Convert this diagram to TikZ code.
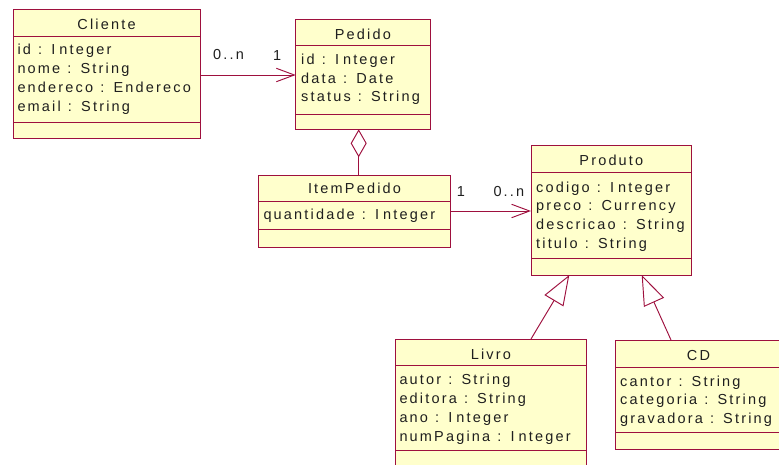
\documentclass[tikz,border=0pt]{standalone}
\usepackage{fontspec}
\setmainfont{Liberation Sans}[LetterSpace=15, WordSpace=1.15]
\usetikzlibrary{arrows.meta,calc}
\definecolor{umlborder}{RGB}{158,16,62}
\definecolor{umlfill}{RGB}{255,255,204}

% the type name is set with a wider gap after its capital I
\newcommand\Int{I\kern4pt nteger}

% class box: name, left, top, right, bottom, divider 1, divider 2, title baseline, title
\newcommand\umlclass[9]{%
  \node[classbox, minimum width={(#4-#2)*1pt}, minimum height={(#5-#3)*1pt}] (#1) at (#2,#3) {};
  \draw[divider] (#2,#6) -- (#4,#6);
  \draw[divider] (#2,#7) -- (#4,#7);
  \node[title] (#1-title) at ({(#2+#4)/2},#8) {#9};
}
% attribute lines: name, x, first baseline, line step, list
\newcommand\umlattrs[5]{%
  \foreach \t [count=\i from 0] in {#5}
    \node[attr] (#1-attr-\i) at (#2,{#3+#4*\i}) {\t};
}

\begin{document}
\begin{tikzpicture}[x=1pt,y=-1pt,
  classbox/.style={draw=umlborder, fill=umlfill, line width=1pt,
    inner sep=0pt, outer sep=0pt, anchor=north west},
  divider/.style={draw=umlborder, line width=0.95pt},
  umltext/.style={inner sep=0pt, text=black!88, font=\fontsize{14.5}{17}\selectfont},
  attr/.style={umltext, anchor=base west},
  title/.style={umltext, anchor=base},
  mult/.style={umltext, anchor=base west},
  assoc/.style={draw=umlborder, line width=0.95pt},
]
\clip (0,0) rectangle (779,465);

\umlclass{cliente}{13}{10}{200}{138.5}{36}{122.5}{30}{Cliente}
\umlattrs{cliente}{17.3}{55}{19}{id : \Int, nome : String, endereco : Endereco, email : String}

\umlclass{pedido}{295.7}{19.3}{430}{129.3}{45}{114}{40}{Pedido}
\umlattrs{pedido}{301}{65}{18.5}{id : \Int, data : Date, status : String}

\umlclass{item}{258.3}{175.7}{450.7}{247.3}{201}{229}{194}{ItemPedido}
\umlattrs{item}{263.3}{220}{18.7}{quantidade : \Int}

\umlclass{produto}{531}{146}{691.7}{275}{172.7}{258}{166}{Produto}
\umlattrs{produto}{536}{192.3}{18.7}{codigo : \Int, preco : Currency, descricao : String, titulo : String}

\umlclass{livro}{395}{339}{586.7}{475}{365.3}{450}{359.3}{Livro}
\umlattrs{livro}{399.3}{384}{19}{autor : String, editora : String, ano : \Int, numPagina : \Int}

\umlclass{cd}{615}{340}{782}{449.3}{367.3}{432.7}{360.7}{CD}
\umlattrs{cd}{620}{386}{18.7}{cantor : String, categoria : String, gravadora : String}

% Cliente -> Pedido
\draw[assoc, -{Straight Barb[length=18pt,width=13.4pt]}]
  ($(cliente.north east)+(0,65)$) -- ($(pedido.north west)+(0,55.7)$);
\node[mult] (m-cli) at (213,60) {0..n};
\node[mult] (m-ped) at (273,61) {1};

% ItemPedido aggregated in Pedido
\draw[assoc, -{Diamond[open,length=28pt,width=16pt]}]
  ($(item.north west)+(100.4,0)$) -- ($(pedido.south west)+(63,0)$);

% ItemPedido -> Produto
\draw[assoc, -{Straight Barb[length=18pt,width=13.4pt]}]
  ($(item.north east)+(0,35.3)$) -- ($(produto.north west)+(0,65)$);
\node[mult] (m-item) at (456.7,197) {1};
\node[mult] (m-prod) at (493.3,197) {0..n};

% Livro and CD specialise Produto
\draw[assoc, -{Triangle[open,length=30pt,width=22pt]}]
  ($(livro.north west)+(136,0)$) -- ($(produto.south west)+(38.3,0)$);
\draw[assoc, -{Triangle[open,length=30pt,width=22pt]}]
  ($(cd.north west)+(56,0)$) -- ($(produto.south west)+(110.7,0)$);
\end{tikzpicture}
\end{document}
